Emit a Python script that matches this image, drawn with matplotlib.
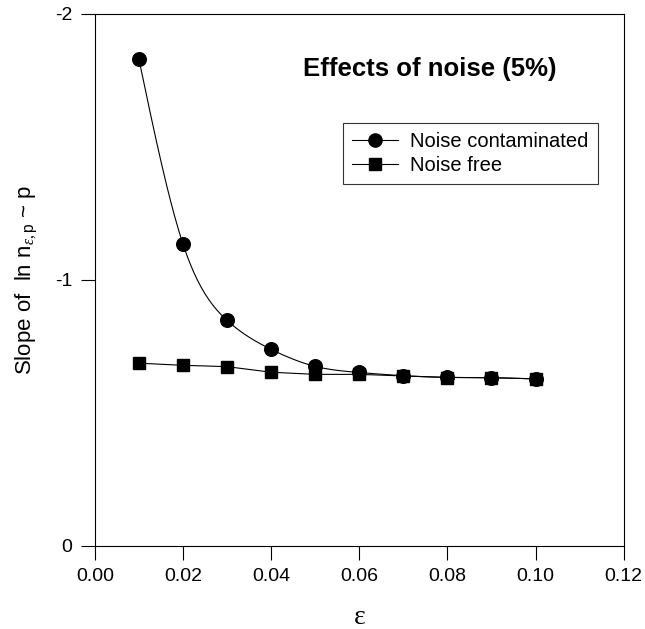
import numpy as np
import matplotlib
matplotlib.use('Agg')
import matplotlib.pyplot as plt

plt.rcParams['font.family'] = ['Liberation Sans', 'DejaVu Sans']
plt.rcParams['axes.unicode_minus'] = False
plt.rcParams['mathtext.fontset'] = 'custom'
plt.rcParams['mathtext.rm'] = 'Liberation Serif'
plt.rcParams['mathtext.it'] = 'Liberation Serif:italic'
plt.rcParams['mathtext.sf'] = 'Liberation Sans'

# data
eps = [0.01, 0.02, 0.03, 0.04, 0.05, 0.06, 0.07, 0.08, 0.09, 0.10]
noisy = [-1.830, -1.135, -0.848, -0.739, -0.675, -0.652, -0.640, -0.634, -0.632, -0.628]
clean = [-0.687, -0.679, -0.674, -0.653, -0.645, -0.645, -0.639, -0.633, -0.633, -0.628]
xticks = [0.00, 0.02, 0.04, 0.06, 0.08, 0.10, 0.12]
yticks = [0, -1, -2]


def natural_spline(x, y, n=400):
    # smooth curve through the points (line drawing only)
    x = np.asarray(x, float)
    y = np.asarray(y, float)
    k = len(x)
    h = np.diff(x)
    A = np.zeros((k, k))
    b = np.zeros(k)
    A[0, 0] = A[-1, -1] = 1
    for i in range(1, k - 1):
        A[i, i - 1] = h[i - 1]
        A[i, i] = 2 * (h[i - 1] + h[i])
        A[i, i + 1] = h[i]
        b[i] = 6 * ((y[i + 1] - y[i]) / h[i] - (y[i] - y[i - 1]) / h[i - 1])
    M = np.linalg.solve(A, b)
    xs = np.linspace(x[0], x[-1], n)
    idx = np.clip(np.searchsorted(x, xs) - 1, 0, k - 2)
    x0, x1 = x[idx], x[idx + 1]
    hh = x1 - x0
    t0 = x1 - xs
    t1 = xs - x0
    ys = (M[idx] * t0**3 + M[idx + 1] * t1**3) / (6 * hh) \
        + (y[idx] / hh - M[idx] * hh / 6) * t0 \
        + (y[idx + 1] / hh - M[idx + 1] * hh / 6) * t1
    return xs, ys


fig = plt.figure(figsize=(6.45, 6.29), dpi=100)
ax = fig.add_axes([0.147, 0.132, 0.820, 0.846])

sx, sy = natural_spline(eps, noisy)
ax.plot(sx, sy, color='black', lw=0.8)
ax.plot(eps, noisy, 'o', color='black', ms=9.8)
ax.plot(eps, clean, '-s', color='black', lw=0.8, ms=8.8)

# legend proxies
h1, = ax.plot([], [], '-o', color='black', lw=0.8, ms=9.5, label='Noise contaminated')
h2, = ax.plot([], [], '-s', color='black', lw=0.8, ms=8, label='Noise free')
leg = ax.legend(handles=[h1, h2], loc='upper left', bbox_to_anchor=(0.469, 0.795),
                fontsize=14.5, frameon=True, fancybox=False, edgecolor='black',
                handlelength=2.3, handletextpad=0.6, borderpad=0.45,
                labelspacing=0.25, borderaxespad=0)
leg.get_frame().set_linewidth(0.8)

ax.text(0.633, 0.897, 'Effects of noise (5%)', transform=ax.transAxes,
        ha='center', va='center', fontsize=18.5, fontweight='bold')

ax.set_xlim(0, 0.12)
ax.set_ylim(0, -2)
ax.set_xticks(xticks)
ax.set_xticklabels([f'{v:.2f}' for v in xticks])
ax.set_yticks(yticks)
ax.set_yticklabels([str(v) for v in yticks])
ax.tick_params(direction='out', length=10, width=0.8, labelsize=14, pad=6)
for s in ax.spines.values():
    s.set_linewidth(0.8)

ax.set_xlabel('ε', fontsize=20, family='Liberation Serif', labelpad=14)
ax.set_ylabel(r'Slope of  ln n$_{\varepsilon,\mathsf{p}}$ ~ p', fontsize=16, labelpad=12)

fig.savefig('out.png', dpi=100)
